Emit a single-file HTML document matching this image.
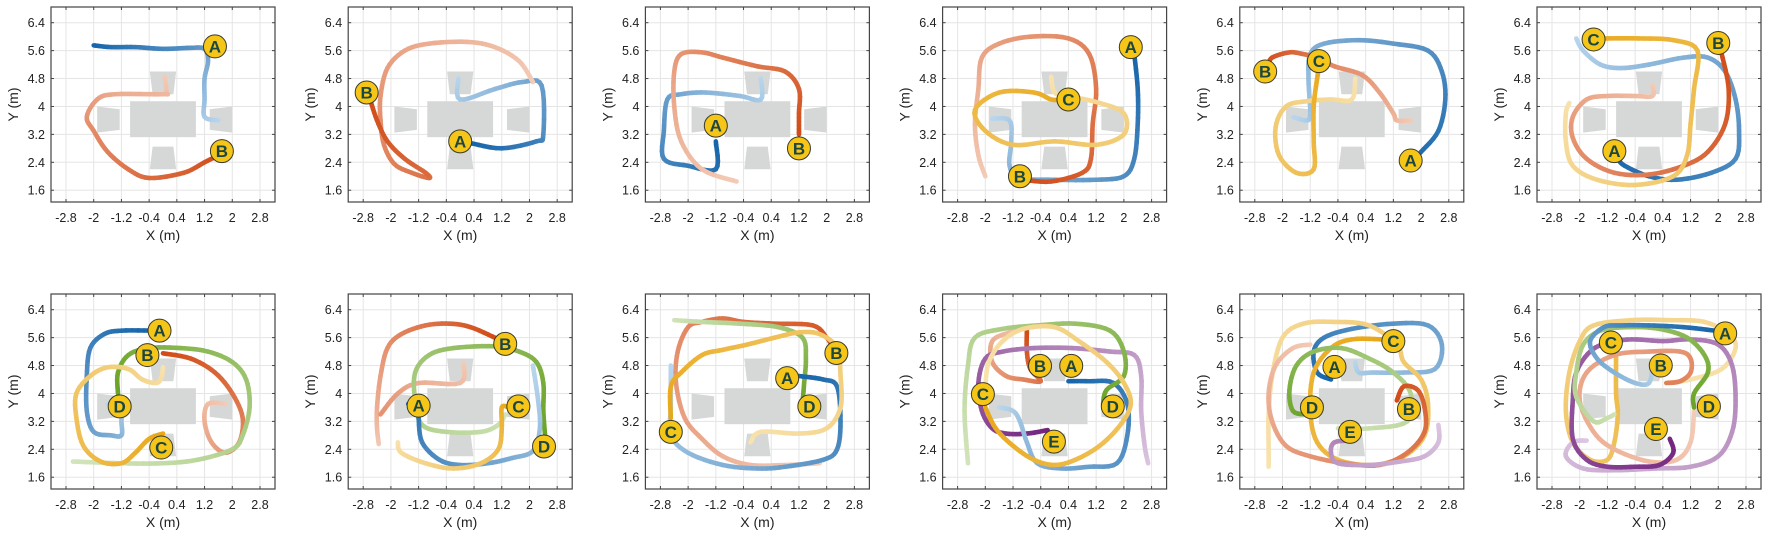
<!DOCTYPE html>
<html><head><meta charset="utf-8">
<style>
html,body{margin:0;padding:0;background:#fff;}
svg{display:block;font-family:"Liberation Sans",sans-serif;}
</style></head>
<body>
<svg id="fig" width="1770" height="542" viewBox="0 0 1770 542" xmlns="http://www.w3.org/2000/svg"></svg>
<script>
// ---- data ----
const xTicks = [-2.8,-2,-1.2,-0.4,0.4,1.2,2,2.8];
const yTicks = [1.6,2.4,3.2,4,4.8,5.6,6.4];
const xTickLabels = ["-2.8","-2","-1.2","-0.4","0.4","1.2","2","2.8"];
const yTickLabels = ["1.6","2.4","3.2","4","4.8","5.6","6.4"];
const palette = {
  blue:["#1765aa","#bcd8ee"], orange:["#d24c18","#f4cdb9"], yellow:["#e9a81a","#f8e4b3"],
  green:["#6aa326","#d3e5bd"], purple:["#74257f","#ddc8e2"]
};
// each trajectory: color, fade start, points (dark end -> light end)
const p1 = [
 {c:"blue",f:0,pts:[[-2,5.75],[-1.5,5.7],[-0.8,5.7],[0,5.65],[0.8,5.68],[1.2,5.65],[1.3,5.3],[1.2,4.8],[1.2,4.2],[1.2,3.7],[1.6,3.6]]},
 {c:"orange",f:0,pts:[[1.6,2.6],[1.2,2.4],[0.6,2.1],[-0.4,1.95],[-1.0,2.2],[-1.6,2.7],[-2.0,3.3],[-2.2,3.7],[-1.9,4.2],[-1.4,4.35],[0,4.35],[0.1,4.4],[0.05,4.85]]}];
const p2 = [
 {c:"blue",f:0,pts:[[0.3,2.95],[1.2,2.8],[2.2,3.0],[2.4,3.2],[2.35,4.6],[1.8,4.7],[1.0,4.5],[0,4.2],[-0.05,4.8]]},
 {c:"orange",f:0,pts:[[-2.6,4.2],[-2.4,3.6],[-2.1,3.0],[-1.6,2.5],[-1.0,2.1],[-0.9,1.95],[-1.4,2.1],[-1.9,2.35],[-2.2,2.9],[-2.3,3.6],[-2.3,4.3],[-2.1,5.1],[-1.6,5.6],[-0.9,5.8],[0.2,5.85],[1.0,5.7],[1.7,5.3],[2.1,4.7]]}];
const p3 = [
 {c:"blue",f:0,pts:[[-1.2,3.0],[-1.2,2.2],[-2.0,2.3],[-2.7,2.5],[-2.7,3.3],[-2.6,4.2],[-2.2,4.35],[-1.5,4.4],[-0.5,4.3],[0.1,4.2],[0.1,4.8]]},
 {c:"orange",f:0,pts:[[1.2,3.2],[1.2,3.8],[1.2,4.5],[0.8,5.0],[0,5.15],[-1,5.4],[-1.6,5.55],[-2.2,5.5],[-2.4,5.0],[-2.4,4.0],[-2.2,3.0],[-1.6,2.2],[-0.6,1.85]]}];
const p4 = [
 {c:"blue",f:0,pts:[[2.3,5.5],[2.4,4.5],[2.4,3.5],[2.3,2.5],[2.0,2.0],[1.2,1.9],[0,1.9],[-1.0,1.95],[-1.3,2.3],[-1.25,3.0],[-1.3,3.6],[-1.8,3.65]]},
 {c:"orange",f:0,pts:[[-0.9,1.9],[-0.1,1.85],[0.8,2.1],[1.05,2.5],[1.1,3.5],[1.2,4.5],[1.0,5.5],[0.4,5.95],[-0.7,6.0],[-1.6,5.8],[-2.1,5.4],[-2.2,4.5],[-2.3,3.5],[-2.2,2.6],[-2.0,2.0]]},
 {c:"yellow",f:0,pts:[[0.2,4.2],[-0.1,4.2],[-0.6,4.4],[-1.6,4.4],[-2.3,3.9],[-2.0,3.3],[-1.2,2.9],[0,3.0],[1.2,2.9],[2.0,3.2],[2.0,3.8],[1.3,4.1],[0.4,4.3],[0,4.4],[-0.1,4.85]]}];
const p5 = [
 {c:"blue",f:0,pts:[[1.8,2.5],[2.0,2.7],[2.5,3.3],[2.7,4.2],[2.6,5.0],[2.2,5.6],[1.2,5.8],[0.2,5.9],[-0.8,5.8],[-1.2,5.5],[-1.25,4.8],[-1.2,3.8],[-1.3,3.6],[-1.7,3.7]]},
 {c:"orange",f:0,pts:[[-2.4,5.2],[-2.3,5.4],[-1.8,5.55],[-1.4,5.5],[-1.0,5.4],[-0.5,5.15],[0.3,4.9],[0.8,4.4],[1.2,3.8],[1.3,3.6],[1.7,3.6]]},
 {c:"yellow",f:0,pts:[[-0.95,5.1],[-1.0,4.8],[-1.1,4.0],[-1.1,3.0],[-1.1,2.2],[-1.6,2.1],[-2.1,2.6],[-2.2,3.4],[-1.9,4.0],[-1.3,4.15],[-0.6,4.2],[0.0,4.2],[0.1,4.8]]}];
const p6 = [
 {c:"blue",f:0,pts:[[-0.9,2.5],[-0.7,2.3],[0,2.0],[0.8,1.9],[1.8,2.1],[2.5,2.5],[2.6,3.3],[2.5,4.2],[2.2,5.0],[1.7,5.4],[1.0,5.4],[0,5.2],[-0.8,5.1],[-1.4,5.2],[-1.9,5.6],[-2.1,5.95]]},
 {c:"orange",f:0,pts:[[2.1,5.5],[2.3,4.5],[2.2,3.5],[1.7,2.7],[1.0,2.3],[0,2.05],[-1.0,2.1],[-1.8,2.5],[-2.2,3.1],[-2.2,3.7],[-1.8,4.2],[-1.2,4.3],[-0.4,4.3],[0.1,4.3],[0.1,4.6]]},
 {c:"yellow",f:0,pts:[[-1.5,5.95],[-1.2,5.95],[-0.3,5.95],[0.7,5.9],[1.4,5.6],[1.3,4.5],[1.2,3.5],[1.1,2.6],[0.7,2.0],[-0.4,1.75],[-1.5,1.9],[-2.2,2.3],[-2.4,3.0],[-2.4,3.8],[-2.3,4.1]]}];
const p7 = [
 {c:"blue",f:0,pts:[[-0.3,5.8],[-1.2,5.8],[-1.7,5.7],[-2.1,5.3],[-2.2,4.5],[-2.2,3.5],[-2.0,2.9],[-1.5,2.8],[-1.2,2.8],[-1.2,3.2],[-1.2,3.6],[-1.6,3.7]]},
 {c:"orange",f:0,pts:[[0,5.15],[0.8,5.0],[1.5,4.6],[2.0,4.0],[2.3,3.3],[2.2,2.6],[1.8,2.3],[1.4,2.6],[1.2,3.2],[1.3,3.7],[1.8,3.7]]},
 {c:"green",f:0,pts:[[-1.3,4.0],[-1.3,4.6],[-1.0,5.1],[-0.4,5.3],[0.5,5.3],[1.3,5.2],[2.0,4.9],[2.4,4.4],[2.5,3.6],[2.3,2.8],[2.0,2.4],[1.0,2.1],[0,2.0],[-1.2,2.0],[-2.6,2.05]]},
 {c:"yellow",f:0,pts:[[0,2.85],[-0.4,2.7],[-0.8,2.3],[-1.2,2.0],[-1.8,2.05],[-2.3,2.5],[-2.5,3.3],[-2.5,4.0],[-2.1,4.5],[-1.6,4.75],[-1.0,4.7],[-0.6,4.4],[-0.2,4.3],[-0.05,4.45],[0,4.75]]}];
const p8 = [
 {c:"orange",f:0,pts:[[1.0,5.6],[0.3,5.9],[-0.3,6.0],[-1.0,5.95],[-1.7,5.7],[-2.1,5.3],[-2.3,4.5],[-2.4,3.6],[-2.4,3.0],[-2.35,2.55]]},
 {c:"orange",f:0.55,pts:[[-2.3,3.4],[-1.8,4.0],[-1.2,4.3],[0,4.3],[0.1,4.85]]},
 {c:"green",f:0,pts:[[2.45,2.8],[2.4,3.5],[2.4,4.3],[2.2,4.9],[1.7,5.2],[1.0,5.35],[-0.2,5.3],[-0.9,5.1],[-1.3,4.6],[-1.3,3.8],[-1.1,3.1],[-0.4,2.9],[0.6,2.9],[1.1,3.1],[1.3,3.4]]},
 {c:"blue",f:0,pts:[[-1.5,3.7],[-1.2,3.5],[-1.2,3.3],[-1.1,2.6],[-0.6,2.1],[0,1.95],[0.8,2.0],[1.5,2.15],[2.1,2.35],[2.3,3.0],[2.25,3.8],[2.1,4.8]]},
 {c:"yellow",f:0,pts:[[1.4,3.6],[1.2,3.6],[1.2,3.0],[1.1,2.4],[0.6,2.0],[-0.2,1.85],[-1.0,2.0],[-1.7,2.3],[-1.8,2.6]]}];
const p9 = [
 {c:"orange",f:0,pts:[[2.2,5.3],[2.0,5.6],[1.6,5.95],[0.5,6.0],[-0.4,6.05],[-1.0,6.15],[-1.6,6.05],[-2.0,5.9],[-2.3,5.2],[-2.35,4.3],[-2.1,3.3],[-1.6,2.7],[-1.0,2.2],[-0.2,1.95],[0.8,1.95],[1.8,2.0]]},
 {c:"green",f:0,pts:[[1.3,3.7],[1.35,4.3],[1.4,5.0],[1.3,5.6],[0.6,5.9],[-0.5,6.0],[-1.6,6.05],[-2.4,6.1]]},
 {c:"blue",f:0,pts:[[1.2,4.5],[1.9,4.4],[2.3,4.2],[2.4,3.2],[2.3,2.4],[1.9,2.1],[0.8,1.9],[0,1.85],[-1.0,1.95],[-2.0,2.3],[-2.5,2.8],[-2.5,3.6],[-2.5,4.8]]},
 {c:"yellow",f:0,pts:[[-2.5,3.3],[-2.5,4.2],[-2.2,4.6],[-1.6,5.1],[-1.0,5.25],[-0.3,5.4],[0.5,5.6],[1.2,5.75],[1.8,5.7],[2.3,5.3],[2.4,4.5],[2.4,3.6],[2.0,3.0],[1.2,2.85],[0.1,2.9],[-0.2,2.6]]}];
const p10 = [
 {c:"orange",f:0,pts:[[-0.8,5.8],[-0.8,5.2],[-0.7,4.7],[-0.4,4.35],[-0.9,4.4],[-1.4,4.5],[-1.8,4.9],[-1.8,5.5],[-1.3,5.75],[-0.9,5.85]]},
 {c:"purple",f:0,pts:[[-0.2,2.95],[-0.8,2.85],[-1.4,2.85],[-1.8,3.0],[-2.1,3.5],[-2.2,4.3],[-2.0,5.0],[-1.5,5.2],[-0.6,5.3],[0.5,5.3],[1.6,5.2],[2.3,5.1],[2.5,4.5],[2.5,3.5],[2.6,2.5],[2.7,2.0]]},
 {c:"blue",f:0,pts:[[0.4,4.35],[1.0,4.35],[1.7,4.3],[2.1,3.7],[2.1,2.8],[1.8,2.0],[1.0,1.9],[0.2,1.85],[-0.5,2.0],[-0.8,2.6],[-1.0,3.2],[-1.2,3.5],[-1.6,3.6]]},
 {c:"green",f:0,pts:[[1.4,3.7],[1.5,4.1],[2.0,4.5],[2.0,5.2],[1.6,5.8],[0.6,6.0],[-0.5,5.95],[-1.5,5.85],[-2.3,5.6],[-2.5,4.8],[-2.6,3.5],[-2.5,2.0]]},
 {c:"yellow",f:0,pts:[[-2.0,3.6],[-1.7,3.0],[-1.2,2.5],[-0.6,2.1],[0,1.95],[0.6,2.1],[1.3,2.5],[1.9,3.1],[2.2,3.7],[2.0,4.3],[1.5,4.9],[0.7,5.5],[0,5.9],[-0.9,5.85],[-1.5,5.5],[-1.9,4.9],[-2.0,4.2]]}];
const p11 = [
 {c:"blue",f:0,pts:[[-0.6,4.4],[-1.0,4.6],[-1.1,5.2],[-0.8,5.6],[0,5.85],[1.2,6.0],[2.2,5.95],[2.6,5.4],[2.4,4.7],[1.5,4.6],[0.6,4.6],[0.2,4.6],[0.1,4.9]]},
 {c:"yellow",f:0,pts:[[0.9,5.55],[0,5.55],[-0.6,5.3],[-1.1,4.6],[-1.2,3.5],[-1.0,2.6],[-0.4,2.1],[0.6,1.95],[1.5,2.2],[2.1,2.8],[2.2,3.7],[2.0,4.4],[1.5,4.9],[1.3,5.4],[0.5,5.95],[-0.5,6.05],[-1.4,6.0],[-2.0,5.6],[-2.3,4.5],[-2.4,3.4],[-2.4,2.4],[-2.4,1.9]]},
 {c:"green",f:0,pts:[[-1.3,3.4],[-1.7,3.5],[-1.8,4.1],[-1.6,4.8],[-1.1,5.2],[-0.3,5.3],[0.5,5.0],[1.2,4.6],[1.7,4.0],[1.6,3.2],[0.5,3.0],[-0.4,3.0]]},
 {c:"orange",f:0,pts:[[1.3,3.8],[1.5,4.2],[1.9,4.1],[2.1,3.6],[2.1,2.9],[1.6,2.3],[0.8,1.95],[-0.2,2.0],[-1.2,2.2],[-1.9,2.5],[-2.3,3.2],[-2.4,4.0],[-2.2,4.8],[-1.7,5.3],[-1.2,5.4]]},
 {c:"purple",f:0.55,pts:[[0.0,2.65],[-0.5,2.6],[-0.6,2.3],[-0.4,2.0],[0.5,1.95],[1.4,2.05],[2.1,2.2],[2.5,2.6],[2.5,3.1]]}];
const p12 = [
 {c:"yellow",f:0.3,pts:[[-0.95,5.1],[-0.95,4.0],[-0.9,3.4],[-1.0,2.6],[-1.2,2.1],[-1.7,2.1],[-2.2,2.6],[-2.4,3.5],[-2.3,4.6],[-2.0,5.5],[-1.6,5.95],[-0.5,6.1],[0.6,6.1],[1.6,6.05],[2.3,5.7],[2.5,5.3],[2.1,4.7],[1.2,4.4],[0.5,4.3]]},
 {c:"orange",f:0.4,pts:[[0.5,4.3],[0.9,4.35],[1.2,4.6],[1.2,5.0],[0.9,5.2],[0,5.2],[-1.0,5.1],[-1.8,4.6],[-2.0,3.8],[-1.6,2.9],[-1.0,2.4],[0,2.05],[0.8,2.1],[1.2,2.6],[1.3,3.5]]},
 {c:"purple",f:0,pts:[[0.6,2.7],[0.7,2.3],[0.3,1.95],[-0.4,1.9],[-1.2,1.9],[-1.8,2.1],[-2.2,2.7],[-2.2,3.8],[-2.1,4.6],[-1.7,5.2],[-1.2,5.45],[-0.5,5.55],[0.4,5.5],[1.2,5.55],[2.0,5.4],[2.4,4.8],[2.5,3.8],[2.4,2.9],[2.0,2.2],[1.2,1.9],[0.2,1.85],[-1.0,1.8],[-1.9,1.85],[-2.4,2.2],[-2.2,2.6],[-1.8,2.65]]},
 {c:"green",f:0,pts:[[1.3,3.6],[1.3,4.0],[1.7,4.6],[1.6,5.1],[1.1,5.6],[0.3,5.85],[-0.6,5.9],[-1.4,5.8],[-1.9,5.4],[-2.1,4.6],[-2.1,3.9],[-1.6,3.2],[-1.2,3.3],[-1.0,3.4]]},
 {c:"blue",f:0,pts:[[1.9,5.8],[1.0,5.9],[0,5.95],[-0.8,5.95],[-1.3,5.9],[-1.7,5.5],[-1.5,5.0],[-1.0,4.6],[-0.4,4.3],[0,4.3],[0.1,4.8]]}];
const trajectories = [p1,p2,p3,p4,p5,p6,p7,p8,p9,p10,p11,p12];
const labelNames = [["A","B"],["A","B"],["A","B"],["A","B","C"],["A","B","C"],["A","B","C"],["A","B","C","D"],["A","B","C","D"],["A","B","C","D"],["A","B","C","D","E"],["A","B","C","D","E"],["A","B","C","D","E"]];
const labelPos = [
 [[1.5,5.72],[1.7,2.72]],
 [[0.0,3.0],[-2.7,4.4]],
 [[-1.2,3.45],[1.2,2.8]],
 [[2.2,5.7],[-1.0,2.0],[0.4,4.2]],
 [[1.7,2.45],[-2.5,5.0],[-0.95,5.3]],
 [[-1.0,2.72],[2.0,5.82],[-1.6,5.92]],
 [[-0.1,5.8],[-0.45,5.1],[-0.05,2.45],[-1.25,3.63]],
 [[-1.2,3.65],[1.3,5.42],[1.68,3.63],[2.42,2.48]],
 [[0.86,4.44],[2.28,5.16],[-2.5,2.9],[1.5,3.63]],
 [[0.48,4.79],[-0.42,4.79],[-2.07,3.98],[1.68,3.63],[-0.02,2.62]],
 [[-0.5,4.76],[1.65,3.55],[1.2,5.5],[-1.15,3.6],[-0.05,2.9]],
 [[2.2,5.72],[0.34,4.8],[-1.1,5.46],[1.73,3.63],[0.2,2.98]]
];

// ---- rendering ----
const NS="http://www.w3.org/2000/svg";
const svg=document.getElementById('fig');
function mk(tag,attrs,parent){const e=document.createElementNS(NS,tag);for(const k in attrs)e.setAttribute(k,attrs[k]);(parent||svg).appendChild(e);return e;}
function hex(c){return [parseInt(c.slice(1,3),16),parseInt(c.slice(3,5),16),parseInt(c.slice(5,7),16)];}
function mix(a,b,t){const A=hex(a),B=hex(b);return 'rgb('+A.map((v,i)=>Math.round(v+(B[i]-v)*t)).join(',')+')';}
function smooth(pts){const out=[];const n=pts.length;for(let i=0;i<n-1;i++){const p0=pts[Math.max(0,i-1)],p1=pts[i],p2=pts[i+1],p3=pts[Math.min(n-1,i+2)];for(let s=0;s<6;s++){const t=s/6,t2=t*t,t3=t2*t;const f=(a,b,c,d)=>0.5*((2*b)+(-a+c)*t+(2*a-5*b+4*c-d)*t2+(-a+3*b-3*c+d)*t3);out.push([f(p0[0],p1[0],p2[0],p3[0]),f(p0[1],p1[1],p2[1],p3[1])]);}}out.push(pts[n-1]);return out;}

const W=224,H=195;
for(let i=0;i<12;i++){
  const left=51+297.2*(i%6), top=i<6?7:294;
  const sx=x=>left+15+(x+2.8)*34.64;
  const sy=y=>top+15.7+(6.4-y)*34.9;
  const g=mk('g',{});
  
  
  const bg=mk('rect',{x:left,y:top,width:W,height:H,fill:'#fff'},g);
  
  
  xTicks.forEach((t,k)=>{
    mk('line',{x1:sx(t),x2:sx(t),y1:top,y2:top+H,stroke:'#e5e5e5','stroke-width':1},g);
    mk('line',{x1:sx(t),x2:sx(t),y1:top+H,y2:top+H-3,stroke:'#444'},g);
    mk('line',{x1:sx(t),x2:sx(t),y1:top,y2:top+3,stroke:'#444'},g);
    const tx=mk('text',{x:sx(t),y:top+H+20,'font-size':12.5,'text-anchor':'middle',fill:'#222'},g);
    tx.textContent=xTickLabels[k];
    
    
  });
  yTicks.forEach((t,k)=>{
    mk('line',{x1:left,x2:left+W,y1:sy(t),y2:sy(t),stroke:'#e5e5e5','stroke-width':1},g);
    mk('line',{x1:left,x2:left+3,y1:sy(t),y2:sy(t),stroke:'#444'},g);
    mk('line',{x1:left+W,x2:left+W-3,y1:sy(t),y2:sy(t),stroke:'#444'},g);
    const ty=mk('text',{x:left-6,y:sy(t)+4.5,'font-size':12.5,'text-anchor':'end',fill:'#222'},g);
    ty.textContent=yTickLabels[k];
    
    
  });
  // furniture
  const fg=mk('g',{fill:'#d6d7d7'},g);
  
  
  mk('rect',{x:sx(-0.95),y:sy(4.15),width:sx(0.95)-sx(-0.95),height:sy(3.12)-sy(4.15)},fg);
  mk('path',{d:`M${sx(-0.38)},${sy(5.0)}L${sx(0.38)},${sy(5.0)}L${sx(0.3)},${sy(4.35)}L${sx(-0.3)},${sy(4.35)}Z`},fg);
  mk('path',{d:`M${sx(-0.3)},${sy(2.85)}L${sx(0.3)},${sy(2.85)}L${sx(0.38)},${sy(2.2)}L${sx(-0.38)},${sy(2.2)}Z`},fg);
  mk('path',{d:`M${sx(-1.9)},${sy(4.0)}L${sx(-1.25)},${sy(3.92)}L${sx(-1.25)},${sy(3.33)}L${sx(-1.9)},${sy(3.25)}Z`},fg);
  mk('path',{d:`M${sx(1.35)},${sy(3.92)}L${sx(2.0)},${sy(4.0)}L${sx(2.0)},${sy(3.25)}L${sx(1.35)},${sy(3.33)}Z`},fg);
  // trajectories
  trajectories[i].forEach((tr,ti)=>{
    const pg=mk('g',{fill:'none','stroke-width':4.6,'stroke-linecap':'round'},g);
    
    
    const pts=smooth(tr.pts.map(p=>[sx(p[0]),sy(p[1])]));
    const cols=palette[tr.c];
    const n=pts.length;
    for(let k=n-2;k>=0;k--){
      const t=tr.f+(1-tr.f)*(k/(n-1));
      mk('line',{x1:pts[k][0],y1:pts[k][1],x2:pts[k+1][0],y2:pts[k+1][1],stroke:mix(cols[0],cols[1],t)},pg);
    }
  });
  // labels
  labelPos[i].forEach((p,k)=>{
    const lg=mk('g',{},g);
    
    
    mk('circle',{cx:sx(p[0]),cy:sy(p[1]),r:11.5,fill:'#f5c518',stroke:'#3a3a2a','stroke-width':1},lg);
    const t=mk('text',{x:sx(p[0]),y:sy(p[1])+6,'font-size':17,'font-weight':'bold','text-anchor':'middle',fill:'#1d4640'},lg);
    t.textContent=labelNames[i][k];
  });
  const box=mk('rect',{x:left,y:top,width:W,height:H,fill:'none',stroke:'#444','stroke-width':1.2},g);
  
  
  const xl=mk('text',{x:left+W/2,y:top+H+38,'font-size':14,'text-anchor':'middle',fill:'#222'},g);
  xl.textContent='X (m)';
  
  
  const yl=mk('text',{x:0,y:0,'font-size':14,'text-anchor':'middle',fill:'#222',transform:`translate(${left-33},${top+H/2}) rotate(-90)`},g);
  yl.textContent='Y (m)';
  
  
}
</script>
</body></html>
